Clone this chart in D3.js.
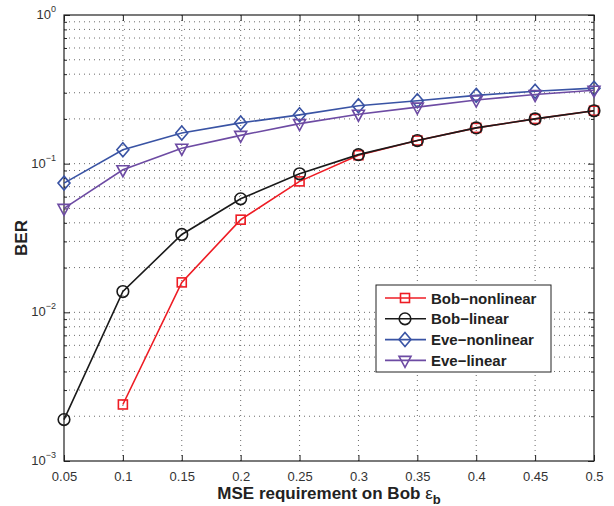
<!DOCTYPE html>
<html>
<head>
<meta charset="utf-8">
<script src="https://cdn.jsdelivr.net/npm/d3@7"></script>
<style>
  body { margin: 0; background: #fff; }
  text { font-family: "Liberation Sans", Arial, sans-serif; }
</style>
</head>
<body>
<div id="plot"></div>
<script>
// data
const mse = [0.05, 0.1, 0.15, 0.2, 0.25, 0.3, 0.35, 0.4, 0.45, 0.5];
const bobNonlinear = [null, 0.0024, 0.0159, 0.042, 0.076, 0.114, 0.143, 0.174, 0.200, 0.227];
const bobLinear = [0.0019, 0.0138, 0.0334, 0.058, 0.0855, 0.115, 0.143, 0.174, 0.200, 0.227];
const eveNonlinear = [0.074, 0.124, 0.161, 0.188, 0.213, 0.245, 0.265, 0.288, 0.307, 0.322];
const eveLinear = [0.050, 0.091, 0.127, 0.155, 0.186, 0.215, 0.240, 0.268, 0.292, 0.312];
const seriesNames = ["Bob\u2212nonlinear", "Bob\u2212linear", "Eve\u2212nonlinear", "Eve\u2212linear"];
const xTicks = [0.05, 0.1, 0.15, 0.2, 0.25, 0.3, 0.35, 0.4, 0.45, 0.5];
const yDecades = [1e-3, 1e-2, 1e-1, 1];

const series = [
  { name: seriesNames[0], values: bobNonlinear, color: "#ee1c24", marker: "square" },
  { name: seriesNames[1], values: bobLinear, color: "#1a1a1a", marker: "circle" },
  { name: seriesNames[2], values: eveNonlinear, color: "#3953a4", marker: "diamond" },
  { name: seriesNames[3], values: eveLinear, color: "#6d4ba3", marker: "triangle" }
];

const W = 614, H = 506;
const margin = { top: 15, right: 20, bottom: 45, left: 64 };
const width = W - margin.left - margin.right;
const height = H - margin.top - margin.bottom;

const svg = d3.select("#plot")
  .append("svg")
  .attr("width", W)
  .attr("height", H);

const g = svg.append("g")
  .attr("transform", `translate(${margin.left},${margin.top})`);

const x = d3.scaleLinear().domain([0.05, 0.5]).range([0, width]);
const y = d3.scaleLog().domain([1e-3, 1]).range([height, 0]);

// minor log positions
const minorTicks = [];
yDecades.slice(0, -1).forEach(d => {
  for (let k = 2; k <= 9; k++) minorTicks.push(d * k);
});

// grid
const grid = g.append("g").attr("stroke", "#444").attr("stroke-width", 0.8)
  .attr("stroke-dasharray", "1,4");
xTicks.slice(1, -1).forEach(t => {
  grid.append("line").attr("x1", x(t)).attr("x2", x(t)).attr("y1", 0).attr("y2", height);
});
minorTicks.concat(yDecades.slice(1, -1)).forEach(t => {
  grid.append("line").attr("x1", 0).attr("x2", width).attr("y1", y(t)).attr("y2", y(t));
});

// axes with inward ticks
const axisColor = "#222";
function styleAxis(sel) {
  sel.select(".domain").remove();
  sel.selectAll(".tick line").attr("stroke", axisColor);
  sel.selectAll(".tick text").attr("fill", "#333").style("font-size", "13px")
    .style("font-family", "Liberation Sans, Arial, sans-serif");
}

g.append("g")
  .attr("transform", `translate(0,${height})`)
  .call(d3.axisBottom(x).tickValues(xTicks).tickSize(-6).tickPadding(11)
    .tickFormat(d => d3.format("")(+d.toFixed(2))))
  .call(styleAxis);
g.append("g")
  .call(d3.axisTop(x).tickValues(xTicks).tickSize(-6).tickFormat(""))
  .call(styleAxis);

g.append("g")
  .call(d3.axisLeft(y).tickValues(yDecades).tickSize(-6).tickFormat(""))
  .call(styleAxis);
g.append("g")
  .call(d3.axisLeft(y).tickValues(minorTicks).tickSize(-3).tickFormat(""))
  .call(styleAxis);
g.append("g").attr("transform", `translate(${width},0)`)
  .call(d3.axisRight(y).tickValues(yDecades).tickSize(-6).tickFormat(""))
  .call(styleAxis);
g.append("g").attr("transform", `translate(${width},0)`)
  .call(d3.axisRight(y).tickValues(minorTicks).tickSize(-3).tickFormat(""))
  .call(styleAxis);

// y tick labels 10^n
yDecades.forEach(d => {
  const e = Math.round(Math.log10(d));
  const t = g.append("text")
    .attr("x", -8).attr("y", y(d) + 4)
    .attr("text-anchor", "end").attr("fill", "#333")
    .style("font-size", "13px");
  t.append("tspan").text("10");
  t.append("tspan").attr("dy", -7).style("font-size", "9px")
    .text(e === 0 ? "0" : "\u2212" + Math.abs(e));
});

// frame
g.append("rect").attr("width", width).attr("height", height)
  .attr("fill", "none").attr("stroke", axisColor).attr("stroke-width", 1.2);

// lines
const line = d3.line()
  .defined(d => d[1] != null)
  .x(d => x(d[0]))
  .y(d => y(d[1]));

function drawMarker(sel, type, color) {
  const s = 5;
  if (type === "square") {
    sel.append("rect").attr("x", -s + 0.5).attr("y", -s + 0.5)
      .attr("width", 2 * s - 1).attr("height", 2 * s - 1);
  } else if (type === "circle") {
    sel.append("circle").attr("r", s + 0.8);
  } else if (type === "diamond") {
    sel.append("path").attr("d", `M0,${-s - 2}L${s + 1},0L0,${s + 2}L${-s - 1},0Z`);
  } else {
    sel.append("path").attr("d", `M${-s - 1},${-s + 1}L${s + 1},${-s + 1}L0,${s + 2}Z`);
  }
  sel.selectAll("*").attr("fill", "none").attr("stroke", color).attr("stroke-width", 1.6);
}

series.forEach(s => {
  const pts = mse.map((m, i) => [m, s.values[i]]);
  g.append("path").datum(pts)
    .attr("fill", "none").attr("stroke", s.color).attr("stroke-width", 1.6)
    .attr("d", line);
  pts.filter(p => p[1] != null).forEach(p => {
    const m = g.append("g").attr("transform", `translate(${x(p[0])},${y(p[1])})`);
    drawMarker(m, s.marker, s.color);
  });
});

// legend
const lg = svg.append("g").attr("transform", "translate(376,285)");
lg.append("rect").attr("width", 175).attr("height", 87)
  .attr("fill", "#fff").attr("stroke", "#222").attr("stroke-width", 1);
series.forEach((s, i) => {
  const row = lg.append("g").attr("transform", `translate(0,${13 + i * 20.8})`);
  row.append("line").attr("x1", 9).attr("x2", 50)
    .attr("stroke", s.color).attr("stroke-width", 1.6);
  const m = row.append("g").attr("transform", "translate(29,0)");
  drawMarker(m, s.marker, s.color);
  row.append("text").attr("x", 55).attr("y", 5.5)
    .style("font-size", "15px").style("font-weight", "bold").attr("fill", "#222")
    .text(s.name);
});

// axis labels
const xl = svg.append("text")
  .attr("x", margin.left + width / 2).attr("y", 499)
  .attr("text-anchor", "middle").attr("fill", "#222")
  .style("font-size", "17px").style("font-weight", "bold");
xl.append("tspan").text("MSE requirement on Bob ");
xl.append("tspan").style("font-weight", "normal").text("\u03b5");
xl.append("tspan").attr("dy", 5).style("font-size", "13px").text("b");

svg.append("text")
  .attr("transform", `translate(27,${margin.top + height / 2}) rotate(-90)`)
  .attr("text-anchor", "middle").attr("fill", "#222")
  .style("font-size", "17px").style("font-weight", "bold")
  .text("BER");
</script>
</body>
</html>
